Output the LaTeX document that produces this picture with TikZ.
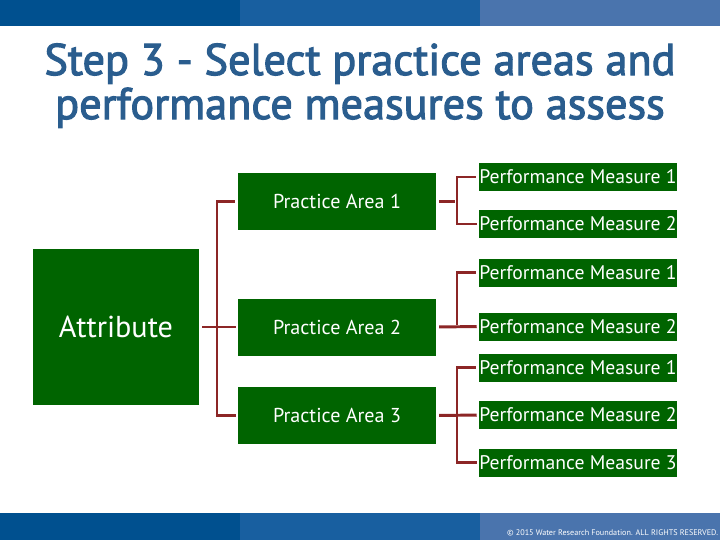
\documentclass[tikz,border=0pt]{standalone}
\usepackage{fontspec}
\setmainfont{PT Sans}
\newfontfamily\titlefont[FakeBold=2.5]{PT Sans}
\definecolor{bardark}{RGB}{0,80,143}
\definecolor{barmid}{RGB}{24,95,160}
\definecolor{barlight}{RGB}{74,116,173}
\definecolor{titleblue}{RGB}{42,93,142}
\definecolor{boxgreen}{RGB}{0,100,0}
\definecolor{linkred}{RGB}{140,38,38}
\tikzset{
  box/.style={fill=boxgreen,text=white,inner sep=0pt,minimum width=4.95cm},
  pabox/.style={box,minimum height=1.425cm,font=\fontsize{14.3}{16}\selectfont},
  pmbox/.style={box,minimum height=0.7cm,font=\fontsize{14}{16}\selectfont},
  title/.style={anchor=base,text=titleblue,font=\titlefont\fontsize{31.5}{36}\selectfont},
  link/.style={draw=linkred,line width=2.1pt,shorten <=2pt,shorten >=1.4pt}
}

\begin{document}
\begin{tikzpicture}[x=0.025cm,y=-0.025cm]
\useasboundingbox (0,0) rectangle (720,540);
% The bars
\foreach \i/\col in {0/bardark,1/barmid,2/barlight}
{
  \fill[\col] (240*\i,0) rectangle +(240,26);
  \fill[\col] (240*\i,513) rectangle +(240,27);
}
\node[anchor=base east,text=white,font=\fontsize{5.8}{6}\selectfont] (foot) at (723,535.5)
  {\textcopyright\ 2015 Water Research Foundation. ALL RIGHTS RESERVED.};

% The title
\node[title] (title1) at (360,75) {Step 3 - Select practice areas and};
\node[title] (title2) at (360,119) {performance measures to assess};

% The attribute and practice areas
\node[box,minimum width=4.15cm,minimum height=3.9cm,font=\fontsize{21.5}{24}\selectfont] (attr) at (116,327) {Attribute};
\node[pabox] (pa1) at (337,201.5) {Practice Area 1};
\node[pabox] (pa2) at (337,327) {Practice Area 2};
\node[pabox] (pa3) at (337,415.5) {Practice Area 3};

% The performance measures
\node[pmbox] (pm11) at (578,177) {Performance Measure 1};
\node[pmbox] (pm12) at (578,224) {Performance Measure 2};
\node[pmbox] (pm21) at (578,272.5) {Performance Measure 1};
\node[pmbox] (pm22) at (578,326.5) {Performance Measure 2};
\node[pmbox] (pm31) at (578,367.5) {Performance Measure 1};
\node[pmbox] (pm32) at (578,415) {Performance Measure 2};
\node[pmbox] (pm33) at (578,462.5) {Performance Measure 3};

% Junctions of the brackets
\coordinate (j0) at (217,327);
\coordinate (j1) at (457,201.5);
\coordinate (j2) at (457,326.5);
\coordinate (j3) at (457,415);

% Brackets from the attribute
\draw[link] (attr.east) -- (pa2.west);
\draw[link] (pa1.west) -| (j0) |- (pa3.west);

% Brackets to the measures
\draw[link] (pa1.east) -- (j1);
\draw[link] (pm11.west) -| (j1) |- (pm12.west);
\draw[link] (pa2.east) -- (pm22.west);
\draw[link] (pm21.west) -| (j2);
\draw[link] (pa3.east) -- (pm32.west);
\draw[link] (pm31.west) -| (j3) |- (pm33.west);

\end{tikzpicture}
\end{document}
